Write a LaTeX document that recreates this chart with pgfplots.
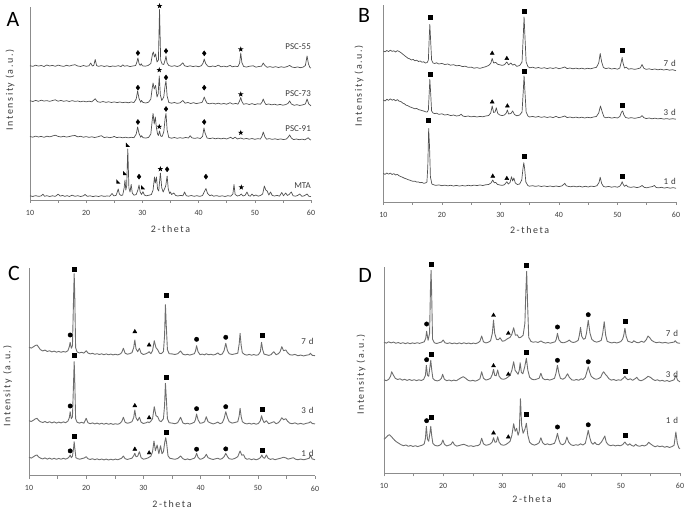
\documentclass[border=0pt]{standalone}
\usepackage{fontspec}
\setmainfont{Carlito}
\newfontfamily\lsfont[LetterSpace=16]{Carlito}
\usepackage{pgfplots}
\pgfplotsset{compat=1.18}
\usetikzlibrary{plotmarks}
\definecolor{axgray}{RGB}{140,140,140}
\definecolor{labgray}{RGB}{60,60,60}
\definecolor{curveA}{RGB}{80,80,80}
\definecolor{curveC}{RGB}{110,110,110}
\pgfdeclareplotmark{fstar}{%
  \pgfpathmoveto{\pgfqpoint{0pt}{\pgfplotmarksize}}%
  \pgfpathlineto{\pgfqpoint{-0.235\pgfplotmarksize}{0.324\pgfplotmarksize}}%
  \pgfpathlineto{\pgfqpoint{-0.951\pgfplotmarksize}{0.309\pgfplotmarksize}}%
  \pgfpathlineto{\pgfqpoint{-0.380\pgfplotmarksize}{-0.124\pgfplotmarksize}}%
  \pgfpathlineto{\pgfqpoint{-0.588\pgfplotmarksize}{-0.809\pgfplotmarksize}}%
  \pgfpathlineto{\pgfqpoint{0pt}{-0.4\pgfplotmarksize}}%
  \pgfpathlineto{\pgfqpoint{0.588\pgfplotmarksize}{-0.809\pgfplotmarksize}}%
  \pgfpathlineto{\pgfqpoint{0.380\pgfplotmarksize}{-0.124\pgfplotmarksize}}%
  \pgfpathlineto{\pgfqpoint{0.951\pgfplotmarksize}{0.309\pgfplotmarksize}}%
  \pgfpathlineto{\pgfqpoint{0.235\pgfplotmarksize}{0.324\pgfplotmarksize}}%
  \pgfpathclose\pgfusepathqfill}
\pgfdeclareplotmark{rtri}{%
  \pgfpathmoveto{\pgfqpoint{-0.7\pgfplotmarksize}{0.9\pgfplotmarksize}}%
  \pgfpathlineto{\pgfqpoint{0.8\pgfplotmarksize}{-0.7\pgfplotmarksize}}%
  \pgfpathlineto{\pgfqpoint{-0.7\pgfplotmarksize}{-0.7\pgfplotmarksize}}%
  \pgfpathclose\pgfusepathqfill}
\tikzset{lab/.style={anchor=east, font=\fontsize{9}{10}\selectfont, text=labgray, inner sep=0pt}}
\pgfplotsset{
  xrd/.style={
    scale only axis, anchor=south west,
    axis lines=left, axis line style={-, draw=axgray, line width=0.8pt},
    xmin=10, xmax=60, ymin=0,
    xtick={10,15,...,60}, xticklabels={10,,20,,30,,40,,50,,60},
    ytick=\empty,
    tick align=outside, major tick length=3bp,
    tick style={draw=axgray, line width=0.6pt},
    xticklabel style={font=\fontsize{8}{9}\selectfont, text=labgray, anchor=north, yshift=-3.5bp},
    /pgf/number format/assume math mode=true,
    xlabel={2-theta}, ylabel={Intensity (a.u.)},
    label style={font=\lsfont\fontsize{10}{12}\selectfont, text=labgray},
    clip=false,
  },
  cA/.style={draw=curveA, line width=0.7pt, line join=round, mark=none},
  cC/.style={draw=curveC, line width=0.9pt, line join=round, mark=none},
  mk/.style={only marks, black, mark options={fill=black, draw=black}},
  sq/.style={mk, mark=square*, mark size=2bp},
  ci/.style={mk, mark=*, mark size=2.2bp},
  tr/.style={mk, mark=triangle*, mark size=2.3bp},
  st/.style={mk, mark=fstar, mark size=2.9bp},
  di/.style={mk, mark=diamond*, mark size=2.5bp},
  rt/.style={mk, mark=rtri, mark size=2.6bp},
}
\begin{document}
\begin{tikzpicture}
\path[use as bounding box] (0bp,0bp) rectangle (689bp,511bp);
\node[font=\fontsize{22}{24}\selectfont, text=black] at (13bp,492bp) {A};
\node[font=\fontsize{22}{24}\selectfont, text=black] at (364bp,496bp) {B};
\node[font=\fontsize{22}{24}\selectfont, text=black] at (14bp,238bp) {C};
\node[font=\fontsize{22}{24}\selectfont, text=black] at (365bp,236bp) {D};
%================ A =================
\begin{axis}[xrd, at={(30bp,311bp)}, width=281bp, height=193bp, ymax=193,
  xlabel style={at={(axis description cs:0.5,0)}, anchor=center, yshift=-29bp},
  ylabel style={at={(axis description cs:-0.071,0.57)}, anchor=center}]
% PSC-55
\addplot[cA] coordinates {(10.0,134.3)(10.5,133.6)(11.0,134.8)(11.5,133.9)(12.0,134.5)(12.5,133.5)(13.0,135.0)(13.5,134.0)(14.0,134.6)(14.5,133.7)(15.0,134.9)(15.5,134.1)(16.0,133.6)(16.5,134.7)(17.0,133.9)(17.5,134.8)(18.0,135.3)(18.5,134.0)(19.0,133.5)(19.5,134.5)(20.0,133.7)(20.5,134.2)(20.8,137.0)(21.1,134.0)(21.35,134.6)(21.6,140.5)(21.85,134.5)(22.2,133.6)(22.7,134.4)(23.2,133.5)(23.7,134.2)(24.2,133.3)(24.7,134.0)(25.2,133.6)(25.7,134.3)(26.2,133.4)(26.5,135.2)(26.8,133.8)(27.3,134.3)(27.8,133.4)(28.3,134.0)(28.8,134.5)(29.0,137.5)(29.2,142.0)(29.4,136.5)(29.6,134.6)(29.8,136.2)(30.0,134.2)(30.5,133.8)(31.0,134.5)(31.5,136.5)(31.8,146.0)(31.95,148.0)(32.15,143.0)(32.35,146.0)(32.6,138.0)(32.85,140.0)(33.05,190.5)(33.25,140.0)(33.5,136.0)(33.8,135.5)(34.05,140.0)(34.2,144.0)(34.4,137.0)(34.7,134.5)(35.2,133.6)(35.7,134.3)(36.2,133.5)(36.7,134.4)(37.2,137.2)(37.5,134.2)(38.0,133.5)(38.5,134.2)(39.0,133.4)(39.5,134.0)(40.0,133.3)(40.5,134.3)(40.8,137.0)(41.0,141.0)(41.25,136.5)(41.6,134.0)(42.0,133.2)(42.5,134.0)(43.0,133.4)(43.5,134.8)(44.0,133.2)(44.5,133.9)(45.0,133.1)(45.6,134.6)(46.0,133.2)(46.5,133.8)(47.0,133.4)(47.3,137.0)(47.5,147.0)(47.7,137.5)(48.0,133.6)(48.5,132.9)(49.0,133.7)(49.7,134.2)(50.2,132.8)(50.7,133.5)(51.2,133.8)(51.5,137.0)(51.8,134.5)(52.2,132.7)(52.7,133.4)(53.2,132.6)(53.7,133.3)(54.2,132.5)(54.7,133.2)(55.2,132.6)(55.7,133.3)(56.2,134.6)(56.6,133.0)(57.1,132.4)(57.6,133.1)(58.1,132.3)(58.6,132.9)(59.0,134.5)(59.3,144.0)(59.55,136.0)(59.8,132.5)(60.0,132.0)};
% PSC-73
\addplot[cA] coordinates {(10.0,99.3)(10.5,98.5)(11.0,99.6)(11.5,98.7)(12.0,99.8)(12.5,98.9)(13.0,99.4)(13.5,98.6)(14.0,99.5)(14.5,100.2)(15.0,98.8)(15.5,99.6)(16.0,98.7)(16.5,99.3)(17.0,98.5)(17.5,99.4)(18.0,98.6)(18.5,99.0)(19.0,98.2)(19.5,98.9)(20.0,98.1)(20.5,98.8)(21.0,98.2)(21.6,101.2)(22.0,98.3)(22.5,97.7)(23.0,98.5)(23.5,97.6)(24.0,98.2)(24.5,97.5)(25.0,98.1)(25.5,97.4)(26.0,98.0)(26.5,97.3)(27.0,97.9)(27.5,97.2)(28.0,98.0)(28.5,97.5)(28.9,101.0)(29.15,109.0)(29.4,101.5)(29.7,97.8)(29.85,99.5)(30.1,97.6)(30.6,97.0)(31.1,97.8)(31.5,101.0)(31.75,112.0)(31.9,117.0)(32.1,111.0)(32.35,114.5)(32.6,103.0)(32.8,106.0)(33.0,124.0)(33.2,105.0)(33.45,99.5)(33.8,103.0)(34.05,115.0)(34.2,119.0)(34.4,104.0)(34.7,97.5)(35.2,96.8)(35.7,97.5)(36.2,96.6)(36.7,97.2)(37.2,99.5)(37.6,96.8)(38.1,97.5)(38.6,96.5)(39.1,97.3)(39.6,96.4)(40.1,97.0)(40.6,97.5)(40.85,100.5)(41.0,103.0)(41.2,100.0)(41.5,96.8)(42.0,96.2)(42.5,96.9)(43.0,96.0)(43.5,96.8)(44.0,95.9)(44.5,96.5)(45.0,95.8)(45.6,97.3)(46.1,95.9)(46.6,96.6)(47.0,95.8)(47.3,99.0)(47.5,102.5)(47.7,98.5)(48.0,95.7)(48.5,96.4)(49.0,95.5)(49.5,96.4)(50.0,95.4)(50.5,96.2)(51.0,95.8)(51.3,98.0)(51.5,101.0)(51.75,97.5)(52.0,95.4)(52.5,96.0)(53.0,95.1)(53.5,95.8)(54.0,94.9)(54.5,95.6)(55.0,94.8)(55.5,95.4)(55.9,96.5)(56.2,99.0)(56.5,96.0)(57.0,94.7)(57.5,95.3)(58.0,94.5)(58.5,95.1)(59.0,96.0)(59.3,101.0)(59.6,96.0)(60.0,94.2)};
% PSC-91
\addplot[cA] coordinates {(10.0,63.5)(10.5,62.8)(11.0,63.9)(11.5,63.0)(12.0,63.6)(12.5,62.7)(13.0,63.8)(13.5,63.1)(14.0,64.0)(14.5,64.8)(15.0,63.6)(15.5,63.0)(16.0,63.7)(16.5,62.9)(17.0,63.5)(17.5,64.2)(18.0,64.5)(18.5,63.1)(19.0,63.7)(19.5,62.8)(20.0,63.4)(20.5,62.6)(21.0,63.2)(21.5,62.5)(22.0,63.1)(22.7,64.3)(23.2,62.4)(23.7,63.0)(24.2,62.3)(24.7,62.9)(25.0,63.6)(25.4,62.4)(26.0,62.9)(26.5,62.2)(27.0,62.8)(27.5,62.1)(28.0,62.7)(28.5,62.3)(28.9,66.0)(29.15,73.0)(29.4,66.5)(29.7,62.8)(29.85,64.3)(30.1,62.4)(30.6,61.9)(31.1,62.6)(31.5,66.0)(31.75,80.0)(31.9,86.5)(32.1,76.0)(32.3,83.0)(32.5,72.0)(32.7,66.0)(32.85,64.5)(33.05,69.0)(33.25,64.0)(33.5,63.5)(33.8,68.0)(34.05,82.0)(34.2,86.5)(34.4,70.0)(34.7,62.5)(35.2,61.8)(35.7,62.5)(36.2,61.7)(36.7,62.3)(37.2,61.8)(37.7,62.5)(38.2,62.0)(38.5,64.3)(38.8,62.2)(39.3,61.6)(39.8,62.2)(40.3,61.5)(40.7,63.5)(40.95,72.0)(41.15,67.0)(41.5,62.0)(42.0,61.4)(42.5,62.0)(43.0,61.2)(43.5,61.9)(44.0,61.1)(44.5,61.8)(45.0,61.0)(45.7,62.7)(46.1,61.2)(46.5,62.8)(46.9,61.0)(47.5,62.0)(48.0,60.9)(48.5,61.6)(49.0,60.8)(49.5,61.5)(50.0,60.7)(50.5,61.3)(51.0,61.0)(51.3,64.0)(51.5,68.0)(51.8,63.0)(52.1,60.8)(52.6,61.4)(53.1,60.6)(53.6,61.2)(54.1,60.5)(54.6,61.1)(55.1,60.4)(55.6,61.0)(55.9,62.5)(56.2,65.0)(56.5,62.0)(56.9,60.4)(57.4,61.0)(57.9,60.3)(58.4,60.9)(58.9,60.2)(59.3,61.5)(59.5,62.3)(59.8,60.5)(60.0,60.0)};
% MTA
\addplot[cA] coordinates {(10.0,4.2)(10.5,3.5)(11.0,4.4)(11.5,3.6)(12.0,4.1)(12.3,5.8)(12.6,3.7)(13.0,4.3)(13.5,3.5)(14.0,4.2)(14.5,3.6)(15.0,5.8)(15.4,3.9)(15.8,4.6)(16.2,3.6)(16.6,4.4)(17.0,3.5)(17.5,4.8)(18.0,3.7)(18.5,4.3)(19.0,3.5)(19.5,4.2)(19.8,5.5)(20.2,3.6)(20.7,4.2)(21.2,3.4)(21.7,4.1)(22.2,3.5)(22.7,4.3)(23.2,3.6)(23.7,4.0)(24.2,3.8)(24.6,6.5)(24.9,4.2)(25.3,4.5)(25.5,7.5)(25.7,11.0)(25.9,6.0)(26.2,4.5)(26.5,5.0)(26.75,12.0)(26.9,20.0)(27.05,10.0)(27.2,14.0)(27.4,51.0)(27.6,12.0)(27.8,8.0)(28.0,15.5)(28.2,7.0)(28.5,4.8)(28.9,5.5)(29.2,10.0)(29.4,15.0)(29.6,8.0)(29.85,5.5)(30.1,8.3)(30.35,5.0)(30.7,4.2)(31.2,4.8)(31.6,5.5)(31.9,10.0)(32.15,23.0)(32.3,17.0)(32.5,23.0)(32.7,11.0)(32.9,9.0)(33.2,27.0)(33.45,12.0)(33.7,8.0)(34.15,14.0)(34.4,24.0)(34.6,11.0)(34.85,6.5)(35.0,8.0)(35.2,5.5)(35.6,7.0)(35.9,4.6)(36.3,4.0)(36.8,4.6)(37.2,4.2)(37.5,8.0)(37.8,4.3)(38.2,3.8)(38.7,4.5)(39.2,3.7)(39.7,4.3)(40.2,3.6)(40.7,4.5)(41.0,8.0)(41.3,11.5)(41.6,6.5)(42.0,4.3)(42.3,5.0)(42.7,3.8)(43.2,4.4)(43.7,3.6)(44.2,4.2)(44.7,3.5)(45.2,4.3)(45.7,3.8)(46.1,6.0)(46.3,15.5)(46.5,5.5)(46.9,4.0)(47.3,4.6)(47.6,6.0)(47.9,4.0)(48.3,4.8)(48.6,8.0)(48.9,4.4)(49.2,3.8)(49.5,6.0)(49.8,4.0)(50.2,5.0)(50.6,3.8)(51.0,4.5)(51.4,6.0)(51.7,14.0)(51.95,10.0)(52.2,9.0)(52.5,5.0)(52.8,8.0)(53.1,4.5)(53.5,4.0)(54.0,4.6)(54.4,3.8)(54.8,7.5)(55.1,4.2)(55.5,7.0)(55.8,4.5)(56.1,5.5)(56.5,8.0)(56.8,4.3)(57.2,3.8)(57.6,4.5)(58.0,6.0)(58.4,3.7)(58.8,4.2)(59.3,6.0)(59.6,3.8)(60.0,3.3)};
\addplot[di] coordinates {(29.2,147)(34.2,149)(41.0,146.7)(29.2,112.3)(34.2,122.5)(41.0,112.3)(29.2,78)(34.2,91)(41.0,78)(29.4,23.3)(34.4,30.7)(41.3,23.3)};
\addplot[st] coordinates {(33.05,194)(47.5,150.7)(33.0,130)(47.5,105.7)(33.0,73.3)(47.5,67.3)(33.2,31)(47.6,12.7)};
\addplot[rt] coordinates {(25.7,18.3)(26.9,26.7)(27.4,55)(30.1,12.5)};
\node[lab] at (axis cs:60,153) {PSC-55};
\node[lab] at (axis cs:60,106.7) {PSC-73};
\node[lab] at (axis cs:60,71.7) {PSC-91};
\node[lab] at (axis cs:60,14.3) {MTA};
\end{axis}
%================ B =================
\begin{axis}[xrd, at={(383.3bp,309bp)}, width=292.7bp, height=197bp, ymax=197,
  xlabel style={at={(axis description cs:0.5,0)}, anchor=center, yshift=-28bp},
  ylabel style={at={(axis description cs:-0.083,0.59)}, anchor=center}]
\addplot[cA] coordinates {(10.0,151.0)(10.3,150.2)(10.6,151.5)(10.9,150.4)(11.2,151.8)(11.5,150.6)(11.8,151.2)(12.1,150.0)(12.4,151.4)(12.7,150.5)(13.0,149.4)(13.3,148.0)(13.6,146.5)(13.9,145.2)(14.2,143.8)(14.5,143.2)(14.8,142.0)(15.1,142.6)(15.4,141.2)(15.7,141.8)(16.0,140.5)(16.3,141.0)(16.6,139.8)(16.9,140.2)(17.2,139.0)(17.5,139.5)(17.7,142.0)(17.85,165.0)(17.95,177.5)(18.1,160.0)(18.25,142.0)(18.5,139.0)(18.8,138.5)(19.1,139.2)(19.5,138.0)(20.0,138.6)(20.5,137.5)(21.0,138.0)(21.5,136.8)(22.0,137.3)(22.5,136.2)(23.0,136.6)(23.5,135.4)(24.0,135.8)(24.5,134.6)(25.0,134.9)(25.5,133.8)(26.0,134.4)(26.5,133.6)(27.0,134.5)(27.5,135.3)(28.0,136.6)(28.35,138.5)(28.6,143.5)(28.85,139.0)(29.2,139.6)(29.5,137.8)(29.9,137.2)(30.3,136.6)(30.7,137.3)(31.1,140.0)(31.4,137.2)(31.8,139.0)(32.1,136.8)(32.4,137.8)(32.8,135.6)(33.3,136.5)(33.7,140.0)(33.9,165.0)(34.05,185.0)(34.2,165.0)(34.4,140.0)(34.7,135.5)(35.0,134.2)(35.5,134.8)(36.0,133.8)(36.5,134.5)(37.0,133.6)(37.5,134.3)(38.0,133.4)(38.5,134.2)(39.0,133.5)(39.5,134.4)(40.0,133.3)(40.5,134.0)(41.0,135.0)(41.4,133.4)(41.9,134.0)(42.4,133.2)(42.9,133.9)(43.4,133.1)(43.9,133.8)(44.4,133.0)(44.9,133.7)(45.4,133.2)(45.9,134.0)(46.4,134.6)(46.8,139.0)(47.05,148.5)(47.3,140.0)(47.6,134.5)(48.0,133.4)(48.5,134.0)(49.0,133.0)(49.5,133.6)(50.0,132.8)(50.4,134.0)(50.65,140.0)(50.8,144.5)(50.95,139.0)(51.2,134.0)(51.5,134.8)(51.9,132.8)(52.4,133.4)(52.9,132.6)(53.4,133.2)(53.9,134.0)(54.2,137.5)(54.5,133.8)(54.9,132.6)(55.4,133.2)(55.9,132.4)(56.4,133.0)(56.9,132.2)(57.4,132.8)(57.9,132.0)(58.4,132.6)(58.9,131.8)(59.4,132.3)(60.0,131.3)};
\addplot[cA] coordinates {(10.0,102.0)(10.3,101.0)(10.6,102.8)(10.9,101.6)(11.2,103.2)(11.5,101.8)(11.8,102.6)(12.1,101.2)(12.4,102.4)(12.7,100.8)(13.0,100.5)(13.3,99.0)(13.6,98.2)(13.9,96.8)(14.2,96.3)(14.5,95.2)(14.8,94.6)(15.1,93.9)(15.4,93.2)(15.7,93.6)(16.0,92.4)(16.3,92.0)(16.6,91.4)(16.9,91.0)(17.2,90.2)(17.5,90.0)(17.7,92.0)(17.85,110.0)(17.95,122.5)(18.1,108.0)(18.25,91.0)(18.5,89.0)(18.8,88.4)(19.1,88.8)(19.5,87.6)(20.0,88.2)(20.5,87.0)(21.0,87.5)(21.5,86.4)(22.0,87.0)(22.5,86.0)(23.0,86.5)(23.3,87.8)(23.6,86.0)(24.0,85.4)(24.5,86.0)(25.0,85.1)(25.5,85.7)(26.0,85.0)(26.5,85.6)(27.0,85.2)(27.5,86.0)(28.0,86.5)(28.35,89.0)(28.6,96.0)(28.85,89.5)(29.1,90.0)(29.3,94.3)(29.55,88.5)(29.9,87.0)(30.3,86.4)(30.7,87.0)(31.0,89.0)(31.2,92.0)(31.4,88.0)(31.8,88.5)(32.1,91.0)(32.4,87.5)(32.8,86.2)(33.3,87.0)(33.7,90.0)(33.9,110.0)(34.05,126.0)(34.2,110.0)(34.4,90.0)(34.7,86.0)(35.0,85.0)(35.5,85.6)(36.0,84.8)(36.5,85.5)(37.0,84.6)(37.5,85.3)(38.0,84.5)(38.5,85.2)(39.0,84.4)(39.5,85.6)(40.0,84.3)(40.5,85.0)(41.0,86.0)(41.4,84.4)(41.9,85.0)(42.4,84.2)(42.9,84.9)(43.4,84.1)(43.9,84.8)(44.4,84.0)(44.9,84.7)(45.4,84.2)(45.9,85.0)(46.4,85.5)(46.8,89.0)(47.1,96.0)(47.4,90.0)(47.7,85.0)(48.0,84.2)(48.5,84.8)(49.0,83.9)(49.5,84.5)(50.0,84.0)(50.4,85.5)(50.7,90.0)(50.9,91.0)(51.1,87.0)(51.4,84.5)(51.9,83.8)(52.4,84.4)(52.9,83.6)(53.4,84.2)(53.9,84.8)(54.2,86.3)(54.5,84.4)(54.9,83.4)(55.4,84.0)(55.9,83.2)(56.4,83.8)(56.9,83.1)(57.4,83.6)(57.9,82.9)(58.4,83.4)(58.9,82.8)(59.4,83.3)(60.0,82.8)};
\addplot[cA] coordinates {(10.0,28.5)(10.3,27.6)(10.6,29.0)(10.9,27.8)(11.2,28.9)(11.5,27.5)(11.8,28.3)(12.1,27.0)(12.4,27.6)(12.7,26.2)(13.0,25.4)(13.3,24.7)(13.6,23.8)(13.9,23.2)(14.2,22.4)(14.5,21.9)(14.8,21.2)(15.1,20.6)(15.4,20.9)(15.7,19.9)(16.0,20.1)(16.3,19.3)(16.6,19.6)(16.9,18.7)(17.2,19.0)(17.45,20.0)(17.6,35.0)(17.75,73.5)(17.9,55.0)(18.05,25.0)(18.3,18.0)(18.6,17.2)(19.0,16.6)(19.5,17.1)(20.0,16.3)(20.5,16.9)(21.0,16.1)(21.5,16.7)(22.0,16.0)(22.5,16.6)(23.0,15.9)(23.5,16.5)(24.0,16.0)(24.5,16.7)(25.0,16.2)(25.5,16.9)(26.0,16.4)(26.5,17.0)(27.0,16.5)(27.5,17.2)(28.0,17.5)(28.4,19.0)(28.7,22.0)(28.95,19.2)(29.2,19.6)(29.5,17.6)(29.9,17.0)(30.3,16.6)(30.7,17.3)(31.1,20.3)(31.35,18.0)(31.65,19.5)(31.9,25.3)(32.1,21.0)(32.3,24.0)(32.55,19.0)(32.9,17.5)(33.3,18.0)(33.65,22.0)(33.85,33.0)(34.0,39.3)(34.15,33.0)(34.35,20.0)(34.7,16.4)(35.0,15.8)(35.5,16.3)(36.0,15.6)(36.5,16.2)(37.0,15.5)(37.5,16.1)(38.0,15.4)(38.5,16.0)(39.0,15.3)(39.5,16.0)(40.0,15.4)(40.5,16.1)(40.8,17.5)(41.0,18.7)(41.25,16.3)(41.6,15.6)(42.0,15.2)(42.5,15.9)(43.0,15.1)(43.5,15.8)(44.0,15.0)(44.5,15.7)(45.0,15.0)(45.5,15.9)(46.0,15.4)(46.5,16.3)(46.85,19.5)(47.05,24.7)(47.3,18.5)(47.6,15.6)(48.0,15.0)(48.5,15.6)(49.0,14.8)(49.5,15.4)(50.0,14.8)(50.4,15.8)(50.65,18.0)(50.8,20.3)(50.95,18.0)(51.2,15.6)(51.5,17.0)(51.8,15.2)(52.3,14.6)(52.8,15.2)(53.3,14.4)(53.8,15.0)(54.2,16.5)(54.6,14.6)(55.0,14.2)(55.5,14.9)(56.0,15.5)(56.3,16.5)(56.6,14.6)(57.0,14.1)(57.5,14.7)(58.0,13.9)(58.5,14.5)(59.0,13.8)(59.5,14.4)(60.0,13.7)};
\addplot[sq] coordinates {(17.95,184.7)(34.05,191)(50.8,151.3)(17.95,128)(34.05,130.5)(50.8,97)(17.75,82)(34.0,45.3)(50.8,25.8)};
\addplot[tr] coordinates {(28.6,148.7)(31.1,143.5)(28.6,100)(31.2,96)(28.7,25.8)(31.1,23.5)};
\node[lab] at (axis cs:60,138.5) {7\,\,d};
\node[lab] at (axis cs:60,89.7) {3\,\,d};
\node[lab] at (axis cs:60,20.3) {1\,\,d};
\end{axis}
%================ C =================
\begin{axis}[xrd, at={(29bp,35.3bp)}, width=286bp, height=208bp, ymax=208,
  xlabel style={at={(axis description cs:0.5,0)}, anchor=center, yshift=-28bp},
  ylabel style={at={(axis description cs:-0.075,0.43)}, anchor=center}]
\addplot[cC] coordinates {(10.0,128.5)(10.4,127.6)(10.8,129.0)(11.1,130.2)(11.4,130.7)(11.7,128.4)(12.0,126.0)(12.4,124.8)(12.8,125.6)(13.2,124.2)(13.6,125.0)(14.0,123.8)(14.4,124.6)(14.8,123.5)(15.2,124.3)(15.6,123.4)(16.0,124.2)(16.4,123.6)(16.8,125.0)(17.05,129.0)(17.2,133.4)(17.4,127.5)(17.6,130.0)(17.8,180.0)(17.9,202.0)(18.0,180.0)(18.15,128.0)(18.4,123.8)(18.8,122.8)(19.2,123.4)(19.6,122.6)(20.0,125.0)(20.3,122.8)(20.7,121.8)(21.1,122.4)(21.5,121.4)(21.9,122.0)(22.3,121.2)(22.7,121.9)(23.1,121.0)(23.5,121.8)(23.9,120.9)(24.3,121.6)(24.7,120.8)(25.1,121.5)(25.5,120.8)(25.9,121.6)(26.2,123.0)(26.5,127.4)(26.8,122.5)(27.2,121.5)(27.6,122.0)(28.0,123.0)(28.3,128.0)(28.5,135.7)(28.7,127.0)(29.0,124.0)(29.3,127.4)(29.6,122.5)(30.0,121.2)(30.4,121.8)(30.8,123.0)(31.0,124.0)(31.3,122.0)(31.6,125.0)(31.9,135.0)(32.2,128.0)(32.5,126.0)(32.8,122.5)(33.1,122.0)(33.5,124.0)(33.7,140.0)(33.85,171.0)(34.0,150.0)(34.2,126.0)(34.5,122.0)(35.0,121.8)(35.5,121.2)(36.0,122.0)(36.5,124.7)(36.9,121.5)(37.3,120.8)(37.7,121.4)(38.1,120.6)(38.5,121.3)(38.9,122.0)(39.1,124.5)(39.3,130.0)(39.55,124.0)(39.9,121.0)(40.3,121.6)(40.7,120.8)(41.0,122.0)(41.4,120.9)(41.8,121.5)(42.2,120.7)(42.6,121.3)(43.0,122.8)(43.4,120.9)(43.8,121.8)(44.1,125.0)(44.4,132.4)(44.7,125.0)(45.0,122.0)(45.5,121.2)(46.0,121.8)(46.5,122.5)(46.75,132.0)(46.9,142.4)(47.1,130.0)(47.3,123.0)(47.7,121.2)(48.1,120.6)(48.5,121.3)(48.9,120.5)(49.3,121.2)(49.7,120.4)(50.1,121.0)(50.45,124.0)(50.65,133.4)(50.85,126.0)(51.1,121.5)(51.5,121.0)(51.9,120.3)(52.3,121.0)(52.8,124.0)(53.2,121.0)(53.6,122.0)(53.9,124.0)(54.2,129.0)(54.5,125.0)(54.9,125.7)(55.2,123.0)(55.6,121.0)(56.0,120.6)(56.5,121.3)(57.0,120.0)(57.5,120.6)(58.0,119.8)(58.5,120.5)(59.0,121.0)(59.2,122.4)(59.5,120.4)(60.0,120.0)};
\addplot[cC] coordinates {(10.0,55.0)(10.4,54.2)(10.8,55.6)(11.1,56.8)(11.4,57.4)(11.7,55.2)(12.0,54.0)(12.4,53.2)(12.8,54.2)(13.2,53.0)(13.6,54.0)(14.0,52.8)(14.4,53.8)(14.8,52.6)(15.2,53.6)(15.6,52.8)(16.0,53.8)(16.4,53.0)(16.8,54.6)(17.05,58.0)(17.2,64.0)(17.4,57.0)(17.6,59.0)(17.8,95.0)(17.9,114.0)(18.0,95.0)(18.15,57.0)(18.4,53.5)(18.8,52.6)(19.2,53.4)(19.6,52.5)(20.0,57.4)(20.3,53.0)(20.7,52.0)(21.1,52.8)(21.5,51.8)(21.9,52.6)(22.3,51.6)(22.7,52.5)(23.1,51.5)(23.5,52.4)(23.9,51.4)(24.3,52.2)(24.7,51.3)(25.1,52.0)(25.5,51.4)(25.9,52.3)(26.2,54.0)(26.5,58.4)(26.8,53.5)(27.2,52.4)(27.6,53.0)(28.0,54.0)(28.3,58.0)(28.5,65.7)(28.7,58.0)(29.0,55.0)(29.3,58.4)(29.6,53.5)(30.0,52.2)(30.4,52.8)(30.8,53.8)(31.0,53.0)(31.3,54.5)(31.6,57.0)(31.9,69.0)(32.2,60.0)(32.5,59.0)(32.8,55.0)(33.1,54.0)(33.5,57.0)(33.7,70.0)(33.85,92.4)(34.0,78.0)(34.2,57.0)(34.5,53.0)(35.0,52.6)(35.5,52.0)(36.0,53.0)(36.5,58.4)(36.9,52.8)(37.3,51.8)(37.7,52.5)(38.1,51.6)(38.5,52.4)(38.9,53.5)(39.1,56.0)(39.3,61.7)(39.55,56.0)(39.9,52.4)(40.3,52.8)(40.7,54.0)(41.0,59.0)(41.3,54.0)(41.8,52.6)(42.2,51.8)(42.6,52.5)(43.0,53.6)(43.4,52.0)(43.8,53.0)(44.1,57.0)(44.4,64.0)(44.7,58.0)(45.0,54.0)(45.5,52.6)(46.0,53.2)(46.5,54.0)(46.75,60.0)(46.9,67.4)(47.1,59.0)(47.3,54.0)(47.7,52.4)(48.1,51.8)(48.5,52.5)(48.9,51.6)(49.3,52.4)(49.7,51.5)(50.1,52.2)(50.45,55.0)(50.65,60.0)(50.85,56.0)(51.1,53.0)(51.5,55.0)(51.9,52.0)(52.3,52.8)(52.8,54.0)(53.2,52.0)(53.6,53.0)(53.9,55.0)(54.2,58.0)(54.5,56.0)(54.9,57.0)(55.2,54.5)(55.6,52.5)(56.0,52.0)(56.5,52.8)(57.0,51.6)(57.5,52.3)(58.0,51.5)(58.5,52.4)(59.0,53.0)(59.2,54.0)(59.5,52.2)(60.0,51.8)};
\addplot[cC] coordinates {(10.0,18.5)(10.4,17.6)(10.8,19.0)(11.1,20.2)(11.4,20.7)(11.7,18.6)(12.0,17.6)(12.4,16.8)(12.8,17.8)(13.2,16.6)(13.6,17.6)(14.0,16.5)(14.4,17.4)(14.8,16.4)(15.2,17.3)(15.6,16.5)(16.0,17.4)(16.4,16.6)(16.8,17.5)(17.05,19.0)(17.2,20.7)(17.4,18.0)(17.6,19.5)(17.8,28.0)(17.9,34.0)(18.0,28.0)(18.2,18.0)(18.5,17.0)(18.9,16.5)(19.3,17.2)(19.7,17.8)(20.0,19.0)(20.3,17.0)(20.7,16.2)(21.1,17.0)(21.5,16.0)(21.9,16.8)(22.3,15.9)(22.7,16.7)(23.1,15.8)(23.5,16.6)(23.9,15.7)(24.3,16.5)(24.7,15.8)(25.1,16.6)(25.5,15.9)(25.9,16.8)(26.2,17.5)(26.5,19.7)(26.8,17.0)(27.2,16.3)(27.6,16.9)(28.0,17.5)(28.3,20.0)(28.5,22.4)(28.7,19.0)(29.0,19.5)(29.3,24.0)(29.6,18.0)(30.0,16.5)(30.4,17.0)(30.8,17.8)(31.0,18.5)(31.3,19.5)(31.6,24.0)(31.85,34.7)(32.1,25.0)(32.4,30.7)(32.7,22.0)(33.0,30.0)(33.25,22.0)(33.5,24.0)(33.75,34.0)(33.9,38.0)(34.05,33.0)(34.3,20.0)(34.6,17.5)(35.0,17.0)(35.5,16.4)(36.0,17.2)(36.5,19.7)(36.9,17.0)(37.3,16.0)(37.7,16.8)(38.1,15.9)(38.5,16.7)(38.9,17.5)(39.1,19.0)(39.3,22.4)(39.55,18.5)(39.9,16.4)(40.3,17.0)(40.7,18.5)(41.0,21.4)(41.3,18.0)(41.8,16.8)(42.2,16.2)(42.6,16.9)(43.0,17.5)(43.4,16.4)(43.8,17.2)(44.1,19.0)(44.4,22.4)(44.7,19.0)(45.0,17.0)(45.5,16.4)(46.0,17.3)(46.5,19.0)(46.9,24.7)(47.2,20.5)(47.5,21.0)(47.8,17.5)(48.1,16.4)(48.5,17.0)(48.9,16.0)(49.3,16.8)(49.7,15.9)(50.1,16.7)(50.45,18.0)(50.7,20.7)(50.95,18.0)(51.2,17.5)(51.5,20.7)(51.8,17.5)(52.2,16.3)(52.6,17.0)(53.0,16.0)(53.5,16.8)(54.0,17.5)(54.5,18.5)(54.9,17.8)(55.3,16.6)(55.7,17.2)(56.2,18.0)(56.6,16.5)(57.0,16.0)(57.5,16.7)(58.0,15.9)(58.5,16.6)(59.0,17.5)(59.2,20.7)(59.5,16.8)(60.0,16.0)};
\addplot[sq] coordinates {(17.9,206)(33.9,180)(50.7,140)(17.9,120)(33.9,98)(50.7,66.7)(17.9,40)(33.9,43.4)(50.7,25.5)};
\addplot[ci] coordinates {(17.2,140.7)(39.3,136.4)(44.4,138.4)(17.2,69.7)(39.3,67)(44.4,69)(17.2,24.8)(39.3,26.5)(44.4,26.8)};
\addplot[tr] coordinates {(28.5,144)(31.0,130.7)(28.5,70)(31.0,58)(28.5,26.5)(31.0,22.8)};
\node[lab] at (axis cs:59.8,134.7) {7\,\,d};
\node[lab] at (axis cs:59.8,65.7) {3\,\,d};
\node[lab] at (axis cs:59.8,22.5) {1\,\,d};
\end{axis}
%================ D =================
\begin{axis}[xrd, at={(384bp,37.7bp)}, width=296bp, height=206bp, ymax=206,
  xlabel style={at={(axis description cs:0.5,0)}, anchor=center, yshift=-26bp},
  ylabel style={at={(axis description cs:-0.078,0.48)}, anchor=center}]
\addplot[cC] coordinates {(10.0,131.0)(10.4,130.2)(10.8,131.5)(11.2,130.4)(11.6,131.2)(12.0,130.0)(12.4,130.8)(12.8,129.8)(13.2,130.6)(13.6,129.7)(14.0,130.5)(14.4,129.6)(14.8,130.4)(15.2,129.8)(15.6,130.6)(16.0,129.9)(16.4,130.7)(16.8,131.5)(17.05,135.0)(17.2,142.0)(17.45,133.0)(17.7,140.0)(17.85,185.0)(17.95,203.0)(18.05,180.0)(18.2,134.0)(18.5,130.5)(18.9,129.8)(19.3,130.6)(19.7,131.2)(20.0,133.3)(20.3,130.5)(20.7,129.8)(21.1,130.5)(21.5,129.6)(21.9,130.3)(22.3,129.5)(22.7,130.4)(23.1,129.6)(23.5,130.5)(23.9,129.7)(24.3,130.3)(24.7,129.5)(25.1,130.2)(25.5,129.7)(25.9,130.6)(26.2,132.0)(26.5,137.3)(26.8,131.5)(27.2,130.4)(27.6,131.0)(28.0,132.5)(28.3,140.0)(28.5,153.3)(28.7,140.0)(29.0,134.0)(29.3,133.5)(29.6,135.5)(30.0,132.0)(30.4,132.6)(30.7,134.0)(31.0,135.0)(31.3,136.0)(31.6,139.0)(31.9,145.6)(32.2,138.0)(32.5,138.5)(32.8,135.5)(33.1,136.0)(33.5,138.0)(33.8,150.0)(33.95,180.0)(34.1,202.0)(34.25,170.0)(34.45,136.0)(34.8,132.0)(35.2,131.0)(35.6,131.6)(36.0,130.8)(36.5,132.3)(36.9,130.9)(37.3,130.2)(37.7,130.9)(38.1,130.1)(38.5,130.8)(38.9,131.5)(39.1,134.0)(39.3,140.0)(39.55,133.5)(39.9,131.0)(40.3,130.5)(40.7,131.2)(41.0,132.0)(41.3,133.3)(41.6,131.5)(42.0,130.8)(42.4,131.5)(42.8,133.0)(43.0,138.0)(43.2,146.0)(43.4,137.0)(43.7,134.0)(44.0,135.0)(44.2,140.0)(44.5,153.0)(44.8,140.0)(45.1,134.0)(45.5,132.0)(45.9,131.2)(46.3,131.8)(46.7,133.0)(46.95,140.0)(47.2,151.6)(47.45,138.0)(47.7,132.0)(48.1,131.0)(48.5,130.4)(48.9,131.1)(49.3,130.3)(49.7,131.0)(50.0,131.8)(50.3,134.0)(50.5,138.0)(50.7,145.0)(50.9,137.0)(51.2,132.0)(51.5,131.5)(51.9,130.7)(52.2,132.5)(52.6,131.0)(53.0,130.5)(53.5,132.0)(53.9,131.0)(54.3,133.5)(54.6,137.3)(54.9,135.5)(55.2,133.0)(55.6,131.5)(56.0,130.6)(56.5,131.2)(57.0,130.3)(57.5,130.9)(58.0,130.1)(58.5,130.7)(59.0,131.2)(59.2,132.5)(59.5,130.5)(60.0,130.0)};
\addplot[cC] coordinates {(10.0,93.5)(10.4,92.6)(10.8,94.0)(11.1,97.0)(11.3,101.5)(11.6,98.0)(11.9,95.0)(12.3,93.8)(12.7,94.5)(13.1,93.2)(13.5,94.0)(13.9,92.9)(14.3,93.8)(14.7,92.8)(15.1,93.6)(15.5,92.7)(15.9,93.5)(16.3,92.8)(16.7,94.0)(17.0,98.0)(17.15,108.0)(17.35,98.0)(17.55,97.0)(17.75,106.0)(17.9,113.0)(18.05,104.0)(18.25,95.0)(18.6,93.0)(19.0,92.4)(19.4,93.2)(19.7,95.0)(19.9,99.0)(20.2,94.0)(20.6,92.6)(21.0,93.3)(21.4,92.4)(21.8,93.2)(22.2,92.5)(22.6,94.0)(23.0,95.5)(23.4,96.6)(23.8,95.0)(24.2,93.0)(24.6,92.3)(25.0,93.0)(25.4,92.2)(25.8,93.0)(26.2,94.5)(26.5,101.5)(26.8,95.0)(27.2,93.3)(27.6,93.8)(28.0,95.0)(28.3,99.0)(28.5,104.0)(28.7,98.0)(28.95,97.5)(29.2,103.3)(29.45,97.0)(29.8,94.5)(30.2,94.0)(30.6,94.8)(31.0,96.5)(31.3,98.0)(31.6,103.0)(31.9,111.6)(32.15,103.0)(32.4,101.0)(32.65,99.0)(32.85,103.0)(33.0,110.6)(33.2,101.0)(33.45,99.5)(33.75,106.0)(34.05,115.0)(34.3,103.0)(34.6,96.0)(35.0,94.0)(35.4,93.5)(35.8,94.2)(36.2,95.0)(36.5,100.0)(36.8,95.0)(37.2,93.5)(37.6,94.0)(38.0,93.2)(38.4,94.0)(38.8,95.0)(39.05,100.0)(39.3,108.0)(39.55,100.0)(39.8,95.0)(40.2,94.0)(40.6,95.5)(41.0,99.5)(41.3,96.0)(41.7,93.5)(42.1,93.0)(42.5,93.8)(42.9,93.0)(43.3,94.5)(43.6,93.8)(44.0,96.0)(44.25,101.0)(44.5,106.5)(44.75,101.0)(45.0,97.0)(45.4,95.0)(45.8,94.0)(46.2,94.6)(46.6,96.0)(46.9,100.0)(47.1,101.5)(47.4,99.0)(47.7,97.0)(48.0,94.5)(48.4,93.2)(48.8,93.8)(49.2,92.8)(49.6,93.5)(50.0,93.0)(50.3,94.5)(50.5,95.5)(50.7,97.0)(50.9,95.0)(51.2,93.5)(51.6,94.5)(52.0,93.0)(52.4,94.5)(52.7,96.0)(53.0,93.5)(53.4,92.5)(53.8,93.5)(54.2,95.0)(54.6,97.0)(55.0,96.0)(55.4,94.0)(55.8,92.8)(56.2,93.5)(56.6,92.3)(57.0,93.0)(57.4,92.0)(57.8,92.8)(58.2,91.8)(58.6,92.6)(59.0,93.5)(59.3,98.0)(59.6,93.0)(60.0,91.5)};
\addplot[cC] coordinates {(10.0,34.0)(10.3,35.5)(10.6,37.5)(10.9,38.6)(11.2,37.0)(11.5,35.0)(11.8,33.0)(12.1,31.5)(12.5,30.0)(12.9,28.5)(13.3,27.6)(13.7,28.3)(14.1,27.0)(14.5,27.8)(14.9,26.8)(15.3,27.6)(15.7,26.7)(16.1,27.5)(16.5,28.2)(16.8,29.5)(17.0,35.0)(17.15,47.0)(17.35,34.0)(17.55,32.0)(17.75,40.0)(17.9,47.0)(18.05,38.0)(18.25,30.0)(18.6,28.0)(19.0,27.3)(19.4,28.0)(19.7,29.5)(19.95,33.3)(20.2,29.0)(20.6,27.4)(21.0,28.2)(21.3,28.8)(21.6,31.6)(21.9,28.5)(22.3,27.2)(22.7,27.8)(23.1,28.5)(23.5,29.0)(23.9,28.0)(24.3,27.0)(24.7,27.6)(25.1,26.8)(25.5,27.5)(25.9,27.8)(26.2,29.0)(26.5,35.0)(26.8,29.5)(27.2,28.0)(27.6,28.5)(28.0,29.5)(28.3,31.5)(28.5,35.6)(28.75,31.0)(29.0,31.5)(29.2,36.6)(29.45,31.0)(29.8,28.6)(30.2,28.0)(30.6,28.8)(31.0,30.5)(31.3,32.0)(31.6,38.0)(31.9,49.6)(32.15,42.0)(32.4,45.0)(32.65,38.0)(32.85,42.0)(33.05,74.6)(33.25,48.0)(33.5,40.0)(33.8,44.0)(34.05,50.0)(34.3,38.0)(34.6,31.0)(35.0,29.0)(35.4,28.2)(35.8,29.0)(36.2,30.5)(36.5,35.6)(36.8,30.5)(37.2,28.6)(37.6,29.5)(38.0,28.5)(38.4,29.2)(38.8,30.0)(39.05,34.0)(39.3,40.0)(39.55,33.5)(39.8,29.5)(40.2,28.5)(40.6,30.5)(40.9,36.3)(41.2,31.0)(41.6,28.5)(42.0,27.8)(42.4,28.6)(42.8,28.0)(43.2,29.5)(43.6,28.3)(44.0,30.0)(44.25,36.0)(44.5,43.0)(44.75,36.0)(45.0,31.0)(45.3,29.0)(45.6,31.0)(45.9,29.0)(46.3,28.6)(46.7,31.0)(47.0,34.0)(47.3,37.3)(47.55,31.0)(47.9,28.5)(48.3,27.6)(48.7,28.3)(49.1,27.4)(49.5,28.1)(49.9,27.5)(50.3,28.6)(50.5,30.0)(50.7,31.3)(50.9,29.5)(51.2,28.0)(51.5,29.5)(51.8,28.0)(52.2,27.0)(52.5,29.0)(52.8,27.6)(53.2,27.0)(53.6,28.0)(54.0,27.3)(54.4,28.5)(54.7,31.0)(55.0,29.5)(55.4,27.8)(55.8,26.5)(56.2,27.5)(56.6,26.6)(57.0,27.3)(57.4,26.0)(57.8,26.9)(58.2,25.8)(58.6,26.6)(59.0,28.0)(59.3,41.3)(59.55,30.0)(59.8,25.5)(60.0,24.6)};
\addplot[sq] coordinates {(17.95,209)(34.1,208.6)(50.7,152)(17.9,119.6)(34.05,121)(50.7,102)(17.9,56)(34.05,59)(50.7,38.6)};
\addplot[ci] coordinates {(17.2,149.3)(39.3,146.3)(44.5,158.6)(17.2,113.6)(39.3,113)(44.5,111.5)(17.2,52.6)(39.3,46.3)(44.5,48.5)};
\addplot[tr] coordinates {(28.5,158)(31.0,140)(28.5,107.5)(31.0,99)(28.5,40.3)(31.0,36.3)};
\node[lab] at (axis cs:59.7,139.5) {7\,\,d};
\node[lab] at (axis cs:59.7,99) {3\,\,d};
\node[lab] at (axis cs:59.7,53.3) {1\,\,d};
\end{axis}
\end{tikzpicture}
\end{document}
